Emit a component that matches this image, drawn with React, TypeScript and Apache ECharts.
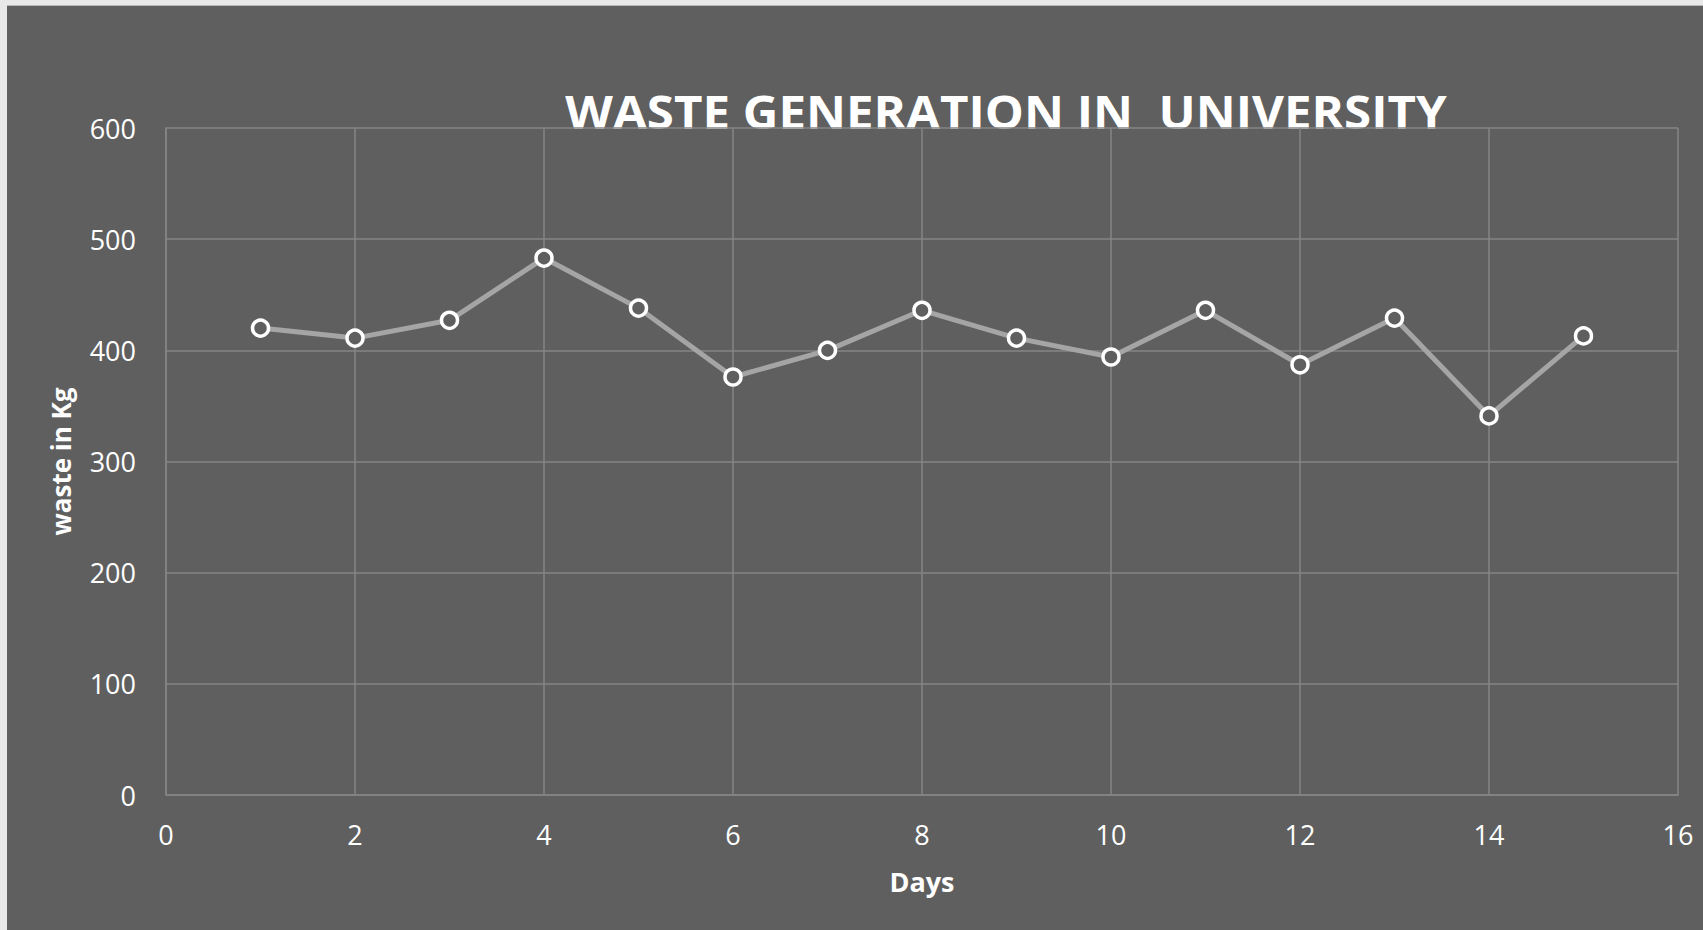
import React, { useEffect, useRef } from "react";
import * as echarts from "echarts";

const days = [1, 2, 3, 4, 5, 6, 7, 8, 9, 10, 11, 12, 13, 14, 15];
const wasteKg = [420, 411, 427, 483, 438, 376, 400, 436, 411, 394, 436, 387, 429, 341, 413];
const xTicks = [0, 2, 4, 6, 8, 10, 12, 14, 16];
const yTicks = [0, 100, 200, 300, 400, 500, 600];

const titleText = "WASTE GENERATION IN  UNIVERSITY";
const xName = "Days";
const yName = "waste in Kg";

export default function App() {
  const ref = useRef<HTMLDivElement>(null);

  useEffect(() => {
    if (!ref.current) return;
    const chart = echarts.init(ref.current, null, { renderer: "svg" });
    const font = "'Open Sans', 'Noto Sans', sans-serif";
    const gridColor = "#858585";
    chart.setOption({
      animation: false,
      backgroundColor: "#5f5f5f",
      textStyle: { fontFamily: font },
      grid: { left: 159, top: 122, right: 25, bottom: 135, containLabel: false },
      graphic: [
        {
          type: "text",
          x: 999,
          y: 105,
          scaleX: 1.07,
          style: {
            text: titleText,
            fill: "#ffffff",
            font: `bold 46px ${font}`,
            textAlign: "center",
            textVerticalAlign: "middle",
          },
        },
      ],
      xAxis: {
        type: "value",
        min: xTicks[0],
        max: xTicks[xTicks.length - 1],
        interval: 2,
        name: xName,
        nameLocation: "middle",
        nameGap: 73,
        nameTextStyle: { color: "#ffffff", fontSize: 27, fontWeight: "bold", fontFamily: font },
        axisLine: { show: true, lineStyle: { color: gridColor, width: 1.5 } },
        axisTick: { show: false },
        axisLabel: { color: "#ffffff", fontSize: 27, margin: 26, fontFamily: font },
        splitLine: { show: true, lineStyle: { color: gridColor, width: 1.5 } },
      },
      yAxis: {
        type: "value",
        min: yTicks[0],
        max: yTicks[yTicks.length - 1],
        interval: 100,
        name: yName,
        nameLocation: "middle",
        nameGap: 92,
        nameTextStyle: { color: "#ffffff", fontSize: 26, fontWeight: "bold", fontFamily: font },
        axisLine: { show: true, lineStyle: { color: gridColor, width: 1.5 } },
        axisTick: { show: false },
        axisLabel: { color: "#ffffff", fontSize: 27, margin: 30, fontFamily: font },
        splitLine: { show: true, lineStyle: { color: gridColor, width: 1.5 } },
      },
      series: [
        {
          type: "line",
          data: days.map((d, i) => [d, wasteKg[i]]),
          symbol: "circle",
          symbolSize: 16,
          showAllSymbol: true,
          lineStyle: { color: "#a5a5a5", width: 5 },
          itemStyle: { color: "#5f5f5f", borderColor: "#ffffff", borderWidth: 3.5 },
          z: 3,
        },
      ],
    });
    return () => chart.dispose();
  }, []);

  return (
    <div
      style={{
        position: "fixed",
        left: 0,
        top: 0,
        width: 1703,
        height: 930,
        background: "#e8e8e8",
        overflow: "hidden",
      }}
    >
      <div
        style={{
          position: "absolute",
          left: 7,
          top: 5,
          width: 1696,
          height: 925,
          borderTop: "1px solid #b8b8b8",
          boxSizing: "border-box",
        }}
      >
        <div ref={ref} style={{ width: 1696, height: 924 }} />
      </div>
    </div>
  );
}
